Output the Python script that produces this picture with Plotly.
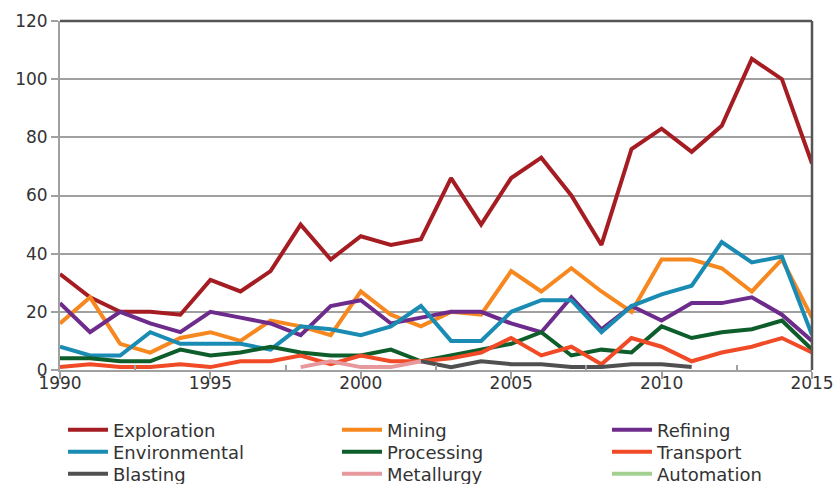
import plotly.graph_objects as go

years = list(range(1990, 2016))

exploration = [33, 25, 20, 20, 19, 31, 27, 34, 50, 38, 46, 43, 45, 66, 50, 66, 73, 60, 43, 76, 83, 75, 84, 107, 100, 71]
mining = [16, 25, 9, 6, 11, 13, 10, 17, 15, 12, 27, 19, 15, 20, 19, 34, 27, 35, 27, 20, 38, 38, 35, 27, 38, 18]
refining = [23, 13, 20, 16, 13, 20, 18, 16, 12, 22, 24, 16, 18, 20, 20, 16, 13, 25, 14, 22, 17, 23, 23, 25, 19, 10]
environmental = [8, 5, 5, 13, 9, 9, 9, 7, 15, 14, 12, 15, 22, 10, 10, 20, 24, 24, 13, 22, 26, 29, 44, 37, 39, 12]
processing = [4, 4, 3, 3, 7, 5, 6, 8, 6, 5, 5, 7, 3, 5, 7, 9, 13, 5, 7, 6, 15, 11, 13, 14, 17, 7]
transport = [1, 2, 1, 1, 2, 1, 3, 3, 5, 2, 5, 3, 3, 4, 6, 11, 5, 8, 2, 11, 8, 3, 6, 8, 11, 6]
blasting_years = list(range(2002, 2012))
blasting = [3, 1, 3, 2, 2, 1, 1, 2, 2, 1]
metallurgy_years = list(range(1998, 2003))
metallurgy = [1, 3, 1, 1, 3]
automation_years = [2015]
automation = [None]

series = [
    ("Exploration", years, exploration, "#A51D22"),
    ("Mining", years, mining, "#F7881F"),
    ("Refining", years, refining, "#6D2B8B"),
    ("Environmental", years, environmental, "#1A8CB4"),
    ("Processing", years, processing, "#0E5E2B"),
    ("Transport", years, transport, "#F14A26"),
    ("Blasting", blasting_years, blasting, "#505050"),
    ("Metallurgy", metallurgy_years, metallurgy, "#E6989C"),
    ("Automation", automation_years, automation, "#A3D08E"),
]

font = "DejaVu Sans"
col_x = [63 / 835, 337 / 835, 607 / 835]
row_y = [1 - 430 / 484, 1 - 452 / 484, 1 - 474 / 484]

fig = go.Figure()
layout_legends = {}
for i, (name, xs, ys, color) in enumerate(series):
    key = "legend" if i == 0 else f"legend{i + 1}"
    fig.add_trace(go.Scatter(x=xs, y=ys, name=name, mode="lines",
                             line=dict(color=color, width=4), legend=key))
    layout_legends[key] = dict(
        xref="container", yref="container",
        x=col_x[i % 3], y=row_y[i // 3], xanchor="left", yanchor="middle",
        font=dict(family=font, size=18, color="#333333"),
        itemwidth=40, bgcolor="rgba(0,0,0,0)")

fig.update_layout(
    width=835, height=484,
    margin=dict(l=60, r=23, t=21, b=114, autoexpand=False),
    paper_bgcolor="white", plot_bgcolor="white",
    font=dict(family=font, size=17, color="#333333"),
    showlegend=True,
    xaxis=dict(range=[1990, 2015], tickvals=[1990, 1995, 2000, 2005, 2010, 2015],
               showgrid=False, zeroline=False, showline=True, linecolor="#A0A0A0", linewidth=2,
               ticks="outside", ticklen=7, tickcolor="#A0A0A0", tickwidth=2,
               ticklabelstandoff=-10, automargin=False, tickangle=0,
               minor=dict(tickvals=[1992.5, 1997.5, 2002.5, 2007.5, 2012.5], ticks="inside",
                          ticklen=5, tickcolor="#A0A0A0", tickwidth=2),
               tickfont=dict(size=17)),
    yaxis=dict(range=[0, 120], tickvals=[0, 20, 40, 60, 80, 100, 120],
               showgrid=True, gridcolor="#A0A0A0", gridwidth=2, zeroline=False,
               showline=True, linecolor="#A0A0A0", linewidth=2, automargin=False,
               ticks="outside", ticklen=7, tickcolor="#A0A0A0", tickwidth=2,
               tickfont=dict(size=17)),
    **layout_legends,
)
fig.add_shape(type="line", xref="paper", yref="paper", x0=0, x1=1, y0=1, y1=1,
              line=dict(color="#555555", width=2.5))
fig.add_shape(type="line", xref="paper", yref="paper", x0=1, x1=1, y0=0, y1=1,
              line=dict(color="#555555", width=2.5))
fig.write_html("out.html", config={"displayModeBar": False},
               post_script="document.body.style.margin='0';")
